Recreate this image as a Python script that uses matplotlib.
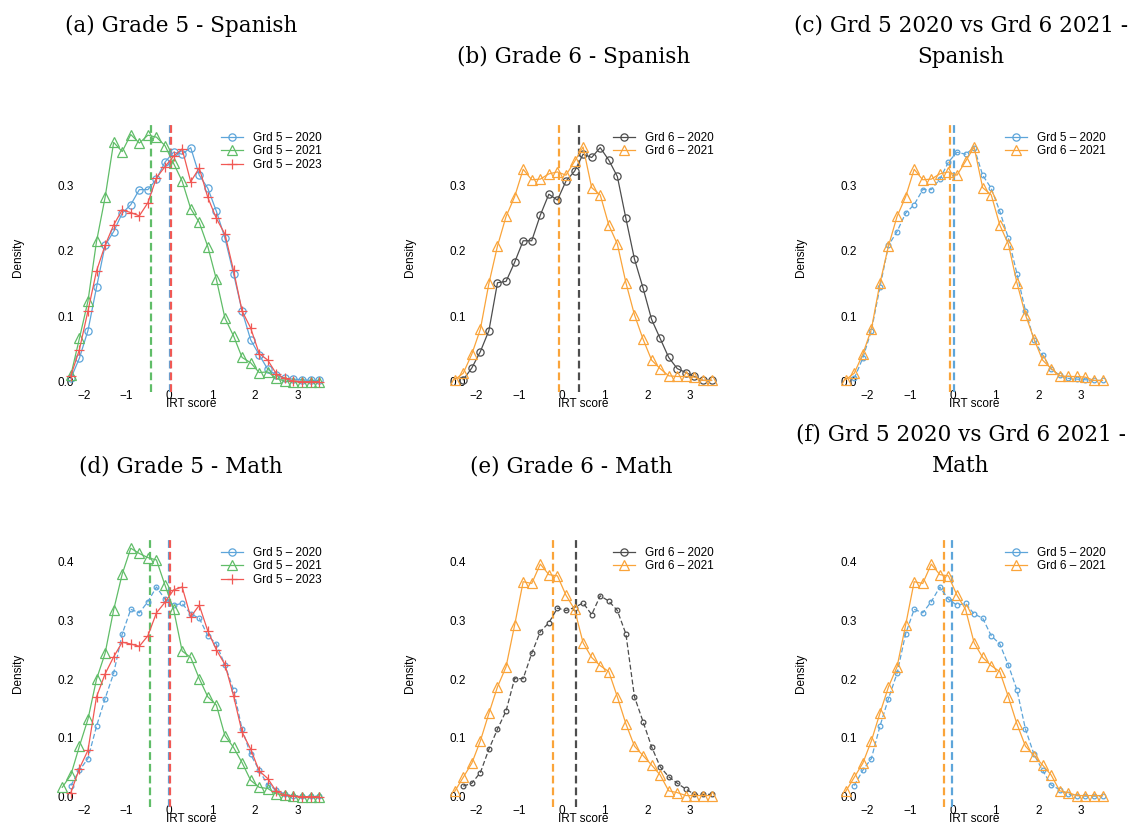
import matplotlib
matplotlib.use("Agg")
import matplotlib.pyplot as plt
from matplotlib.lines import Line2D
from matplotlib.ticker import FormatStrFormatter

# ---------------- data ----------------
bins = [-2.5, -2.3, -2.1, -1.9, -1.7, -1.5, -1.3, -1.1, -0.9, -0.7, -0.5, -0.3, -0.1,
        0.1, 0.3, 0.5, 0.7, 0.9, 1.1, 1.3, 1.5, 1.7, 1.9, 2.1, 2.3, 2.5, 2.7, 2.9,
        3.1, 3.3, 3.5]
bins_from_m23 = bins[1:]

# Spanish
sp_g5_2020 = [0.005, 0.036, 0.078, 0.144, 0.208, 0.229, 0.257, 0.270, 0.293, 0.293,
              0.309, 0.335, 0.350, 0.347, 0.357, 0.315, 0.295, 0.260, 0.219, 0.165,
              0.108, 0.064, 0.041, 0.019, 0.010, 0.005, 0.004, 0.003, 0.002, 0.002]
sp_g5_2021 = [0.010, 0.066, 0.123, 0.214, 0.281, 0.365, 0.351, 0.377, 0.364, 0.376,
              0.373, 0.360, 0.333, 0.306, 0.264, 0.243, 0.206, 0.156, 0.097, 0.070,
              0.037, 0.029, 0.014, 0.015, 0.005, 0.001, 0.0, 0.0, 0.0, 0.0]
sp_g5_2023 = [0.009, 0.049, 0.108, 0.169, 0.208, 0.239, 0.262, 0.258, 0.253, 0.273,
              0.311, 0.328, 0.344, 0.355, 0.305, 0.326, 0.281, 0.249, 0.225, 0.170,
              0.108, 0.082, 0.043, 0.033, 0.012, 0.005, 0.001, 0.0, 0.0, 0.0]
sp_g6_2020 = [0.003, 0.021, 0.046, 0.078, 0.151, 0.153, 0.182, 0.215, 0.215, 0.254,
              0.286, 0.277, 0.306, 0.321, 0.347, 0.342, 0.357, 0.338, 0.313, 0.249,
              0.187, 0.143, 0.095, 0.066, 0.037, 0.020, 0.014, 0.008, 0.002, 0.002]
sp_g6_2021 = [0.003, 0.013, 0.042, 0.080, 0.150, 0.207, 0.252, 0.282, 0.324, 0.308,
              0.309, 0.317, 0.320, 0.315, 0.336, 0.358, 0.296, 0.285, 0.239, 0.210,
              0.151, 0.102, 0.065, 0.033, 0.020, 0.009, 0.008, 0.008, 0.007, 0.002,
              0.002]
sp_means = {"g5_2020": 0.02, "g5_2021": -0.42, "g5_2023": 0.03,
            "g6_2020": 0.41, "g6_2021": -0.06}

# Math
ma_g5_2020 = [0.019, 0.045, 0.065, 0.120, 0.167, 0.210, 0.277, 0.319, 0.313, 0.332,
              0.357, 0.336, 0.326, 0.329, 0.311, 0.304, 0.274, 0.260, 0.224, 0.182,
              0.115, 0.072, 0.045, 0.020, 0.012, 0.004, 0.002, 0.001, 0.001, 0.001]
ma_g5_2021 = [0.016, 0.037, 0.086, 0.132, 0.200, 0.244, 0.318, 0.379, 0.423, 0.414,
              0.407, 0.403, 0.360, 0.319, 0.248, 0.237, 0.201, 0.170, 0.156, 0.104,
              0.084, 0.058, 0.028, 0.016, 0.014, 0.005, 0.003, 0.001, 0.0, 0.0, 0.0]
ma_g5_2023 = [0.007, 0.048, 0.079, 0.170, 0.209, 0.238, 0.263, 0.260, 0.256, 0.274,
              0.313, 0.331, 0.352, 0.357, 0.306, 0.326, 0.282, 0.250, 0.225, 0.172,
              0.110, 0.081, 0.044, 0.031, 0.009, 0.003, 0.001, 0.0, 0.0, 0.0]
ma_g6_2020 = [0.018, 0.023, 0.041, 0.081, 0.115, 0.146, 0.201, 0.201, 0.244, 0.281,
              0.296, 0.321, 0.317, 0.322, 0.330, 0.310, 0.342, 0.333, 0.317, 0.277,
              0.170, 0.128, 0.085, 0.051, 0.034, 0.023, 0.013, 0.004, 0.004, 0.004]
ma_g6_2021 = [0.009, 0.033, 0.057, 0.095, 0.142, 0.187, 0.221, 0.292, 0.366, 0.363,
              0.396, 0.378, 0.376, 0.343, 0.319, 0.262, 0.237, 0.223, 0.213, 0.170,
              0.124, 0.086, 0.070, 0.054, 0.037, 0.010, 0.007, 0.002, 0.002, 0.002,
              0.002]
ma_means = {"g5_2020": -0.01, "g5_2021": -0.46, "g5_2023": 0.02,
            "g6_2020": 0.34, "g6_2021": -0.20}

labels = {"g5_2020": "Grd 5 \u2013 2020", "g5_2021": "Grd 5 \u2013 2021",
          "g5_2023": "Grd 5 \u2013 2023", "g6_2020": "Grd 6 \u2013 2020",
          "g6_2021": "Grd 6 \u2013 2021"}
titles = ["(a) Grade 5 - Spanish", "(b) Grade 6 - Spanish",
          "(c) Grd 5 2020 vs Grd 6 2021 -\nSpanish",
          "(d) Grade 5 - Math", "(e) Grade 6 - Math",
          "(f) Grd 5 2020 vs Grd 6 2021 -\nMath"]
xticks = [-2, -1, 0, 1, 2, 3]
yticks_top = [0.0, 0.1, 0.2, 0.3]
yticks_bot = [0.0, 0.1, 0.2, 0.3, 0.4]

# ---------------- styles ----------------
BLUE, GREEN, RED, ORANGE, GRAY = "#5DA5DA", "#60BD68", "#F15854", "#FAA43A", "#4D4D4D"
SANS = "Liberation Sans"
FS = 8.5

W, H = 1134, 825
fig = plt.figure(figsize=(W / 100, H / 100), dpi=100)
fig.patch.set_facecolor("white")


def add_ax(left, top, width, height):
    return fig.add_axes([left / W, 1 - (top + height) / H, width / W, height / H])


lefts = [52.0, 444.4, 835.4]
AW = 277.4
rows = [(122.6, 269.1, (-0.0152, 0.3952), yticks_top),
        (540.1, 266.5, (-0.0168, 0.4368), yticks_bot)]

STY = {
    "big_circle": dict(marker="o", ms=5.2, ls="-"),
    "small_circle": dict(marker="o", ms=3.4, ls=(0, (4, 2))),
    "triangle": dict(marker="^", ms=7.0, ls="-"),
    "plus": dict(marker="+", ms=7.5, ls="-"),
}
LEG_STY = {
    "big_circle": dict(marker="o", ms=5.2),
    "small_circle": dict(marker="o", ms=5.2),
    "triangle": dict(marker="^", ms=7.0),
    "plus": dict(marker="+", ms=7.5),
}


def panel(ax, series, means, ylim, yticks, leg_xy):
    handles = []
    for x, y, key, color, style in series:
        st = STY[style]
        ax.plot(x, y, color=color, marker=st["marker"], ms=st["ms"], ls=st["ls"],
                lw=0.9, mfc="none", mec=color, mew=0.9,
                clip_on=False, zorder=3)
        lst = LEG_STY[style]
        handles.append(Line2D([], [], color=color, marker=lst["marker"], ms=lst["ms"],
                              ls="-", lw=0.9, mfc="none", mec=color, mew=0.9,
                              label=labels[key]))
    for m, color in means:
        ax.axvline(m, color=color, ls=(0, (3.5, 1.8)), lw=1.6, zorder=2)
    ax.set_xlim(-2.74, 3.74)
    ax.set_ylim(*ylim)
    ax.set_xticks(xticks)
    ax.set_yticks(yticks)
    ax.yaxis.set_major_formatter(FormatStrFormatter("%.1f"))
    for s in ax.spines.values():
        s.set_visible(False)
    ax.tick_params(axis="both", length=0, labelsize=FS)
    ax.tick_params(axis="y", pad=-15.8)
    ax.tick_params(axis="x", pad=-1.5)
    for t in ax.get_xticklabels() + ax.get_yticklabels():
        t.set_fontfamily(SANS)
    ax.set_xlabel("IRT score", fontsize=FS, fontfamily=SANS)
    ax.xaxis.label.set_va("center")
    ax.xaxis.set_label_coords(0.5, -0.047)
    ax.set_ylabel("Density", fontsize=FS, fontfamily=SANS)
    ax.yaxis.label.set_va("center")
    ax.yaxis.set_label_coords(-0.123, 0.5)
    ax.patch.set_alpha(0)
    ax.legend(handles=handles, loc="upper left",
              bbox_to_anchor=(leg_xy[0] / W, 1 - leg_xy[1] / H),
              bbox_transform=fig.transFigure, frameon=False,
              prop={"family": SANS, "size": FS}, handlelength=1.86,
              handletextpad=0.85, labelspacing=0.12, borderpad=0, borderaxespad=0)


panel_defs = [
    # top row: Spanish
    ([(bins_from_m23, sp_g5_2020, "g5_2020", BLUE, "big_circle"),
      (bins_from_m23, sp_g5_2021, "g5_2021", GREEN, "triangle"),
      (bins_from_m23, sp_g5_2023, "g5_2023", RED, "plus")],
     [(sp_means["g5_2020"], BLUE), (sp_means["g5_2021"], GREEN), (sp_means["g5_2023"], RED)],
     (221, 132)),
    ([(bins_from_m23, sp_g6_2020, "g6_2020", GRAY, "big_circle"),
      (bins, sp_g6_2021, "g6_2021", ORANGE, "triangle")],
     [(sp_means["g6_2021"], ORANGE), (sp_means["g6_2020"], GRAY)],
     (613, 132)),
    ([(bins_from_m23, sp_g5_2020, "g5_2020", BLUE, "small_circle"),
      (bins, sp_g6_2021, "g6_2021", ORANGE, "triangle")],
     [(sp_means["g6_2021"], ORANGE), (sp_means["g5_2020"], BLUE)],
     (1005, 132)),
    # bottom row: Math
    ([(bins_from_m23, ma_g5_2020, "g5_2020", BLUE, "small_circle"),
      (bins, ma_g5_2021, "g5_2021", GREEN, "triangle"),
      (bins_from_m23, ma_g5_2023, "g5_2023", RED, "plus")],
     [(ma_means["g5_2020"], BLUE), (ma_means["g5_2021"], GREEN), (ma_means["g5_2023"], RED)],
     (221, 547)),
    ([(bins_from_m23, ma_g6_2020, "g6_2020", GRAY, "small_circle"),
      (bins, ma_g6_2021, "g6_2021", ORANGE, "triangle")],
     [(ma_means["g6_2021"], ORANGE), (ma_means["g6_2020"], GRAY)],
     (613, 547)),
    ([(bins_from_m23, ma_g5_2020, "g5_2020", BLUE, "small_circle"),
      (bins, ma_g6_2021, "g6_2021", ORANGE, "triangle")],
     [(ma_means["g6_2021"], ORANGE), (ma_means["g5_2020"], BLUE)],
     (1005, 547)),
]

for i, (series, means, leg_xy) in enumerate(panel_defs):
    r, c = divmod(i, 3)
    top, hgt, ylim, yt = rows[r]
    ax = add_ax(lefts[c], top, AW, hgt)
    panel(ax, series, means, ylim, yt, leg_xy)

# titles (serif)
TFS = 15.5
title_pos = [(181, [31.7]), (574, [62.7]), (961, [31.7, 62.7]),
             (181, [472]), (571, [472]), (961, [441, 472])]
for text, (cx, baselines) in zip(titles, title_pos):
    for line, yb in zip(text.split("\n"), baselines):
        fig.text(cx / W, 1 - yb / H, line, ha="center", va="baseline",
                 fontsize=TFS, fontfamily="DejaVu Serif")

fig.savefig("out.png", dpi=100, facecolor="white")
